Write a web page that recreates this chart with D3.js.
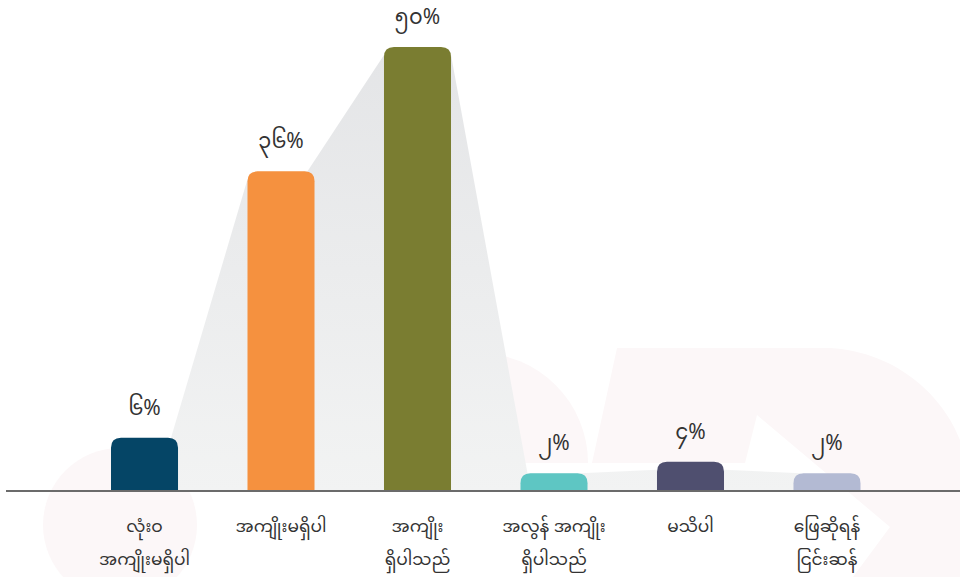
<!DOCTYPE html>
<html><head><meta charset="utf-8">
<script src="https://cdn.jsdelivr.net/npm/d3@7"></script>
<style>
html,body{margin:0;padding:0;background:#fff;}
svg{display:block;}
text{font-family:"Noto Sans Myanmar","Padauk","Myanmar Text","Noto Sans",sans-serif;fill:#333;}
</style></head>
<body>
<svg id="chart" width="960" height="577"></svg>
<script>
const categories = [
  ["လုံးဝ", "အကျိုးမရှိပါ"],
  ["အကျိုးမရှိပါ"],
  ["အကျိုး", "ရှိပါသည်"],
  ["အလွန် အကျိုး", "ရှိပါသည်"],
  ["မသိပါ"],
  ["ဖြေဆိုရန်", "ငြင်းဆန်"]
];
const values = [6, 36, 50, 2, 3.3, 2];
const valueLabels = ["၆%", "၃၆%", "၅၀%", "၂%", "၄%", "၂%"];
const colors = ["#054566", "#f5913f", "#7a7d31", "#5ec6c3", "#4f4f6f", "#b3bad3"];

const svg = d3.select("#chart");
const W = 960, H = 577;
const base = 491;
const ids = categories.map((c, i) => i);

const x = d3.scaleBand().domain(ids).range([42.75, 928.75]).paddingInner(0.509).paddingOuter(0.5);
const y = d3.scaleLinear().domain([0, 50]).range([base, 47]);
const bw = x.bandwidth();
const r = 10;

// defs: gradient for funnel
const defs = svg.append("defs");
const grad = defs.append("linearGradient").attr("id", "fg")
  .attr("gradientUnits", "userSpaceOnUse").attr("x1", 0).attr("y1", y(50)).attr("x2", 0).attr("y2", base);
grad.append("stop").attr("offset", 0).attr("stop-color", "#e4e5e7");
grad.append("stop").attr("offset", 1).attr("stop-color", "#f2f3f3");

// faint watermark shapes
const wm = svg.append("g").attr("fill", "#fcf7f8");
wm.append("circle").attr("cx", 120).attr("cy", 525).attr("r", 77);
wm.append("path").attr("d", d3.arc()({innerRadius: 0, outerRadius: 110, startAngle: -Math.PI / 2, endAngle: Math.PI / 2}))
  .attr("transform", "translate(478,463)")
  .attr("clip-path", "url(#wmclip)");
defs.append("clipPath").attr("id", "wmclip").append("rect").attr("x", -200).attr("y", -200).attr("width", 400).attr("height", 200);
wm.append("path").attr("d",
  "M617,348 L830,348 C900,352 945,400 960,440 L960,577 L853,577 L890,527 L757,415 L745,463 L592,463 Z");

// funnel polygon connecting the bar tops
const pts = [];
pts.push([x(0) + bw / 2, base]);
for (let i = 0; i < values.length - 1; i++) {
  const a = values[i], b = values[i + 1];
  const ra = x(i) + bw, lb = x(i + 1);
  if (b >= a) {
    pts.push([ra - 0.7 * r, y(a)]);
    pts.push([lb, y(b) + 0.8 * r]);
  } else {
    pts.push([ra, y(a) + 0.8 * r]);
    pts.push([lb + 0.7 * r, y(b)]);
  }
}
pts.push([x(values.length - 1) + bw / 2, base]);
svg.append("path").attr("d", d3.line()(pts) + "Z").attr("fill", "url(#fg)");

// bars with rounded tops
function topRounded(x0, y0, w, h, rr) {
  rr = Math.min(rr, h, w / 2);
  return `M${x0},${y0 + h} L${x0},${y0 + rr} Q${x0},${y0} ${x0 + rr},${y0} L${x0 + w - rr},${y0} Q${x0 + w},${y0} ${x0 + w},${y0 + rr} L${x0 + w},${y0 + h} Z`;
}
svg.append("g").selectAll("path").data(values).join("path")
  .attr("d", (d, i) => topRounded(x(i), y(d), bw, base - y(d), r))
  .attr("fill", (d, i) => colors[i]);

// value labels
svg.append("g").selectAll("text").data(values).join("text")
  .attr("x", (d, i) => x(i) + bw / 2)
  .attr("y", (d, i) => y(d) - 23)
  .attr("text-anchor", "middle")
  .attr("font-size", 21)
  .text((d, i) => valueLabels[i]);

// baseline axis
const axis = d3.axisBottom(x).tickSize(0).tickFormat(() => "");
const ag = svg.append("g").attr("transform", `translate(0,${base})`).call(axis);
ag.select(".domain").remove();
svg.append("line").attr("x1", 6).attr("x2", W).attr("y1", base).attr("y2", base)
  .attr("stroke", "#6b6b6b").attr("stroke-width", 2);

// category labels
const cl = svg.append("g").selectAll("text").data(categories).join("text")
  .attr("text-anchor", "middle")
  .attr("font-size", 17);
cl.each(function (lines, i) {
  const t = d3.select(this);
  lines.forEach((ln, k) => {
    t.append("tspan").attr("x", x(i) + bw / 2).attr("y", 532 + k * 33).text(ln);
  });
});
</script>
</body></html>
